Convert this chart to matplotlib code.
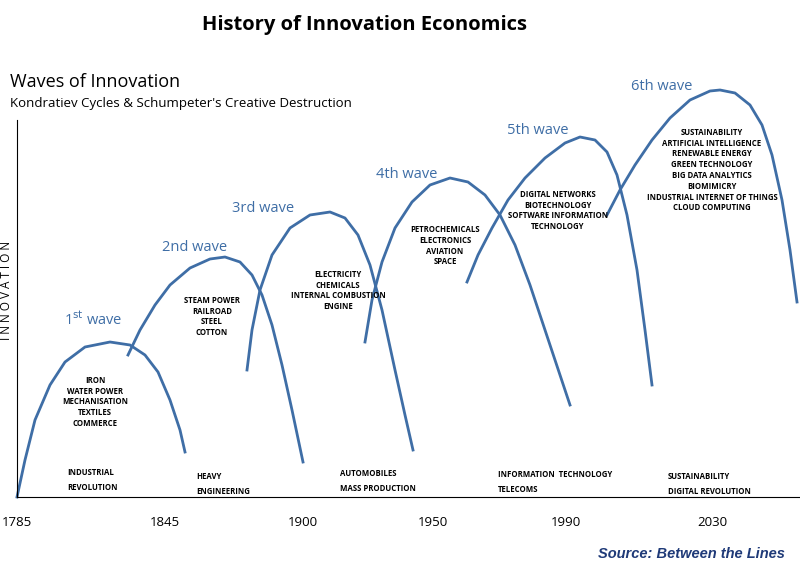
import matplotlib.pyplot as plt

W, H = 800, 577
BLUE = "#3f6ea6"

# wave curves (x = horizontal position, y = innovation level)
wave1_x = [17, 25, 35, 50, 65, 85, 110, 130, 145, 158, 170, 180, 185]
wave1_y = [0, 37, 77, 112, 135, 150, 155, 152, 142, 125, 97, 67, 45]
wave2_x = [128, 140, 155, 170, 190, 210, 225, 240, 252, 262, 272, 282, 292, 303]
wave2_y = [142, 167, 192, 212, 229, 238, 240, 235, 222, 202, 172, 132, 87, 35]
wave3_x = [247, 252, 260, 272, 290, 310, 330, 345, 358, 370, 382, 395, 405, 413]
wave3_y = [127, 167, 207, 242, 269, 282, 285, 279, 262, 232, 187, 127, 82, 47]
wave4_x = [365, 372, 382, 395, 412, 430, 450, 468, 485, 500, 515, 530, 545, 560, 570]
wave4_y = [155, 197, 235, 269, 295, 312, 319, 315, 302, 282, 252, 212, 167, 122, 92]
wave5_x = [467, 478, 492, 508, 525, 545, 565, 580, 595, 607, 617, 627, 637, 645, 652]
wave5_y = [215, 242, 269, 297, 319, 339, 354, 360, 357, 345, 322, 282, 227, 167, 112]
wave6_x = [607, 620, 635, 652, 670, 690, 710, 720, 735, 750, 762, 772, 782, 790, 797]
wave6_y = [282, 307, 332, 357, 379, 397, 406, 407, 404, 392, 372, 342, 297, 247, 195]
waves = [(wave1_x, wave1_y), (wave2_x, wave2_y), (wave3_x, wave3_y),
         (wave4_x, wave4_y), (wave5_x, wave5_y), (wave6_x, wave6_y)]

tick_pos = [17, 165, 303, 433, 566, 712]
tick_labels = ["1785", "1845", "1900", "1950", "1990", "2030"]

wave_names = ["1$^{\\rm st}$ wave", "2nd wave", "3rd wave", "4th wave", "5th wave", "6th wave"]
name_pos = [(93, 320), (195, 248), (263, 208), (407, 175), (538, 131), (662, 86)]

tech_texts = [
    ("IRON\nWATER POWER\nMECHANISATION\nTEXTILES\nCOMMERCE", (95, 376)),
    ("STEAM POWER\nRAILROAD\nSTEEL\nCOTTON", (212, 296)),
    ("ELECTRICITY\nCHEMICALS\nINTERNAL COMBUSTION\nENGINE", (338, 270)),
    ("PETROCHEMICALS\nELECTRONICS\nAVIATION\nSPACE", (445, 225)),
    ("DIGITAL NETWORKS\nBIOTECHNOLOGY\nSOFTWARE INFORMATION\nTECHNOLOGY", (558, 190)),
    ("SUSTAINABILITY\nARTIFICIAL INTELLIGENCE\nRENEWABLE ENERGY\nGREEN TECHNOLOGY\nBIG DATA ANALYTICS\nBIOMIMICRY\nINDUSTRIAL INTERNET OF THINGS\nCLOUD COMPUTING", (712, 128)),
]
bottom_texts = [
    ("INDUSTRIAL\nREVOLUTION", (67, 480)),
    ("HEAVY\nENGINEERING", (196, 484)),
    ("AUTOMOBILES\nMASS PRODUCTION", (340, 481)),
    ("INFORMATION  TECHNOLOGY\nTELECOMS", (498, 482)),
    ("SUSTAINABILITY\nDIGITAL REVOLUTION", (668, 484)),
]

plt.rcParams['font.family'] = ['Open Sans', 'DejaVu Sans']

fig = plt.figure(figsize=(W / 100, H / 100), dpi=100)
x0, y0, y1 = 17, 497, 120
ax = fig.add_axes([x0 / W, (H - y0) / H, (W - x0) / W, (y0 - y1) / H])
ax.set_xlim(x0, W)
ax.set_ylim(0, y0 - y1)
for s in ["top", "right"]:
    ax.spines[s].set_visible(False)
ax.set_yticks([])
ax.set_xticks(tick_pos)
ax.set_xticklabels(tick_labels, fontsize=9.5)
ax.tick_params(axis="x", length=0, pad=14)

for xs, ys in waves:
    ax.plot(xs, ys, color=BLUE, lw=2, clip_on=False, solid_joinstyle="round")


def px(x, y):
    return x / W, 1 - y / H


fig.text(*px(365, 25), "History of Innovation Economics", ha="center", va="center",
         fontsize=14.5, fontweight="bold")
fig.text(*px(10, 82), "Waves of Innovation", ha="left", va="center", fontsize=13)
fig.text(*px(10, 104), "Kondratiev Cycles & Schumpeter's Creative Destruction",
         ha="left", va="center", fontsize=9.5)
fig.text(*px(7, 290), "I N N O V A T I O N", rotation=90, ha="center", va="center", fontsize=8.5)

for name, (x, y) in zip(wave_names, name_pos):
    fig.text(*px(x, y), name, ha="center", va="center", fontsize=10.5, color=BLUE)
for txt, (x, y) in tech_texts:
    fig.text(*px(x, y), txt, ha="center", va="top", fontsize=5.6, fontweight="bold",
             linespacing=1.25)
for txt, (x, y) in bottom_texts:
    fig.text(*px(x, y), txt, ha="left", va="center", fontsize=5.6, fontweight="bold",
             linespacing=1.9)

fig.text(*px(785, 554), "Source: Between the Lines", ha="right", va="center",
         fontsize=10.5, fontweight="bold", style="italic", color="#1f3a78",
         family=["Liberation Sans", "DejaVu Sans"])

fig.savefig("out.png", dpi=100)
